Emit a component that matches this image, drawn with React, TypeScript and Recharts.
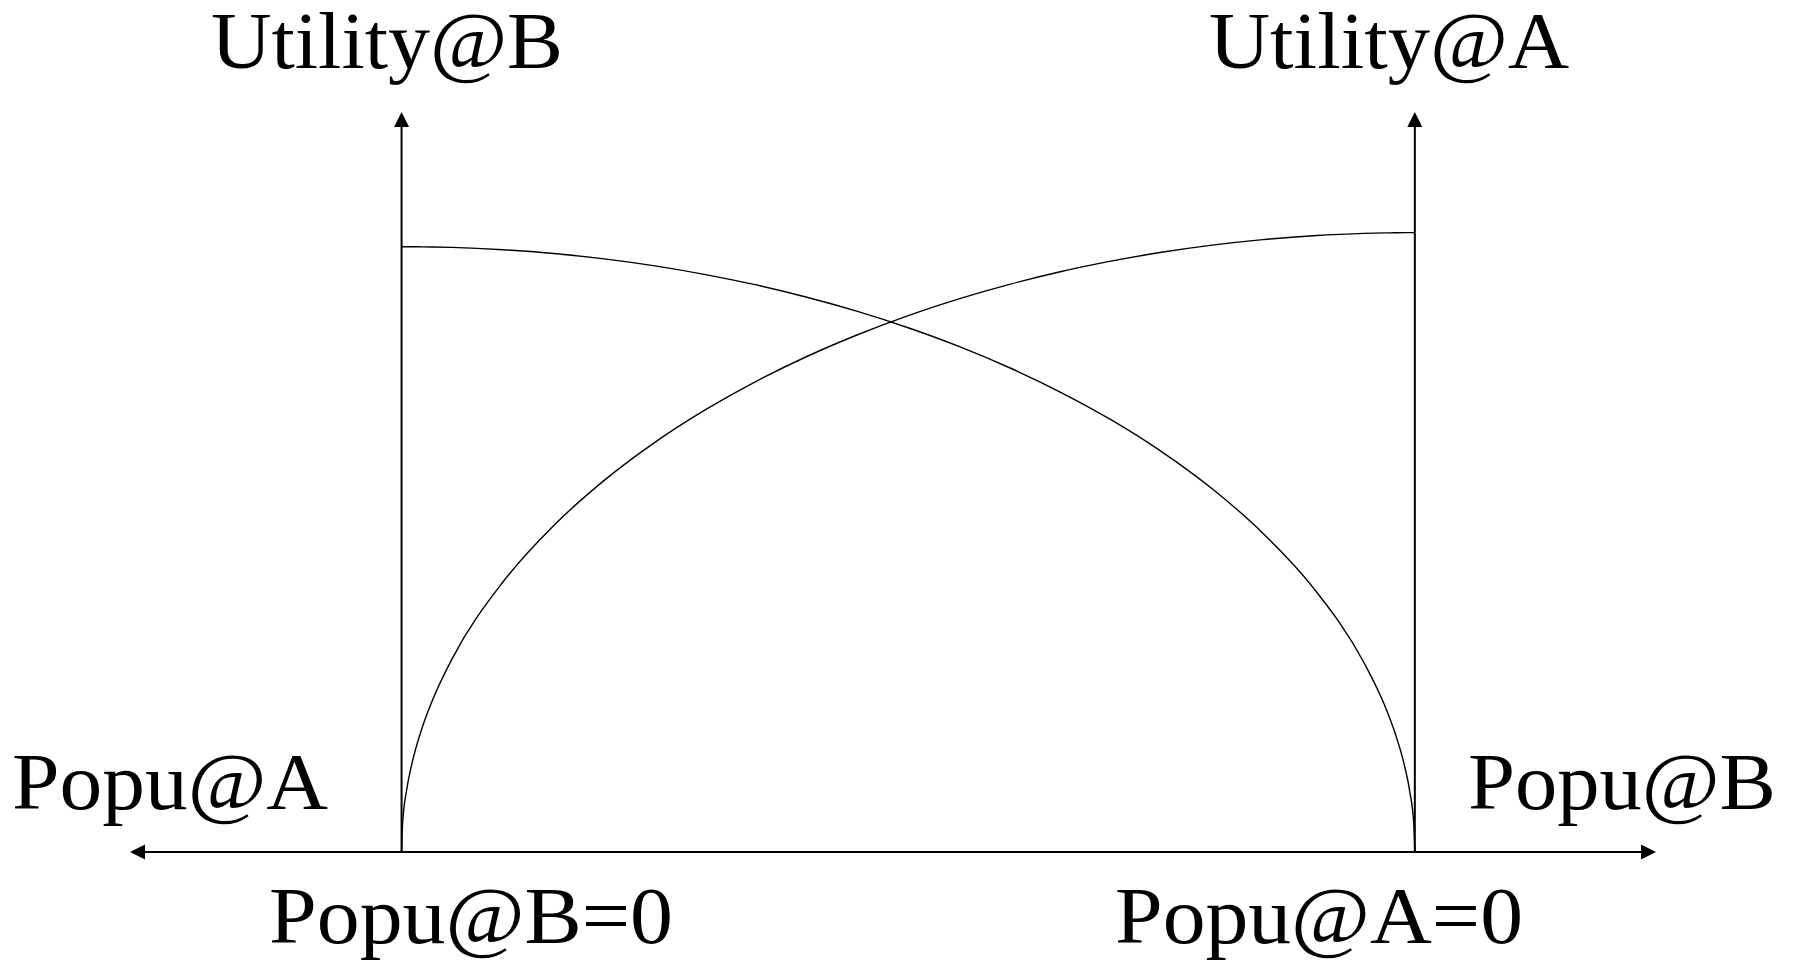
import { LineChart, Line, XAxis, YAxis, ReferenceLine, Customized } from 'recharts'

// share of population on the horizontal axis (0 = left axis, 1 = right axis)
const popu = [0, 0.001, 0.005, 0.01, 0.02, 0.03, 0.05, 0.1, 0.15, 0.2, 0.25, 0.3, 0.35, 0.4, 0.45, 0.5, 0.55, 0.6, 0.65, 0.7, 0.75, 0.8, 0.85, 0.9, 0.95, 0.97, 0.98, 0.99, 0.995, 0.999, 1]
// utility at B
const utilityB = [81.8, 81.8, 81.8, 81.8, 81.78, 81.76, 81.7, 81.39, 80.87, 80.15, 79.2, 78.03, 76.63, 74.97, 73.05, 70.84, 68.32, 65.44, 62.16, 58.42, 54.11, 49.08, 43.09, 35.66, 25.54, 19.89, 16.28, 11.54, 8.17, 3.66, 0]
// utility at A
const utilityA = [0, 3.74, 8.36, 11.81, 16.66, 20.35, 26.14, 36.48, 44.09, 50.22, 55.36, 59.77, 63.61, 66.96, 69.9, 72.49, 74.75, 76.71, 78.41, 79.84, 81.04, 82.01, 82.75, 83.28, 83.6, 83.66, 83.68, 83.7, 83.7, 83.7, 83.7]

const labels = [
  { text: 'Utility@B', x: 211, y: 68, len: 352 },
  { text: 'Utility@A', x: 1209, y: 68, len: 360 },
  { text: 'Popu@A', x: 12, y: 809, len: 316 },
  { text: 'Popu@B', x: 1468, y: 809, len: 308 },
  { text: 'Popu@B=0', x: 269, y: 943, len: 404 },
  { text: 'Popu@A=0', x: 1115, y: 943, len: 408 },
]

const data = popu.map((x, i) => ({ x, u1: utilityB[i], u2: utilityA[i] }))

const HEAD = 15

function arrowHead(tx: number, ty: number, dx: number, dy: number, key: string) {
  const bx = tx - dx * HEAD
  const by = ty - dy * HEAD
  const px = -dy * 7.5
  const py = dx * 7.5
  return <polygon key={key} points={`${tx},${ty} ${bx + px},${by + py} ${bx - px},${by - py}`} fill="#000" />
}

function ArrowLine(props: any) {
  const { x1, y1, x2, y2, both } = props
  const len = Math.hypot(x2 - x1, y2 - y1) || 1
  const dx = (x2 - x1) / len
  const dy = (y2 - y1) / len
  const sx = both ? x1 + dx * HEAD : x1
  const sy = both ? y1 + dy * HEAD : y1
  return (
    <g>
      <line x1={sx} y1={sy} x2={x2 - dx * HEAD} y2={y2 - dy * HEAD} stroke="#000" strokeWidth={2} />
      {arrowHead(x2, y2, dx, dy, 'end')}
      {both && arrowHead(x1, y1, -dx, -dy, 'start')}
    </g>
  )
}

function Labels() {
  return (
    <g>
      {labels.map(l => (
        <text
          key={l.text}
          x={l.x}
          y={l.y}
          textLength={l.len}
          lengthAdjust="spacingAndGlyphs"
          fontFamily="'Liberation Serif', 'Times New Roman', serif"
          fontSize={81}
          fill="#000"
        >
          {l.text}
        </text>
      ))}
    </g>
  )
}

export default function App() {
  return (
    <div style={{ position: 'absolute', left: 0, top: 0, width: 1795, height: 962, background: '#fff' }}>
      <LineChart width={1795} height={962} data={data} margin={{ top: 112, right: 139, bottom: 110, left: 130 }}>
        <XAxis type="number" dataKey="x" domain={[-0.268, 1.238]} hide allowDataOverflow />
        <YAxis type="number" domain={[0, 100]} hide width={0} allowDataOverflow />
        <ReferenceLine segment={[{ x: 1.238, y: 0 }, { x: -0.268, y: 0 }]} ifOverflow="visible" shape={(p: any) => <ArrowLine {...p} both />} />
        <ReferenceLine segment={[{ x: 0, y: 0 }, { x: 0, y: 100 }]} ifOverflow="visible" shape={(p: any) => <ArrowLine {...p} />} />
        <ReferenceLine segment={[{ x: 1, y: 0 }, { x: 1, y: 100 }]} ifOverflow="visible" shape={(p: any) => <ArrowLine {...p} />} />
        <Line type="monotone" dataKey="u1" stroke="#000" strokeWidth={1.4} dot={false} isAnimationActive={false} />
        <Line type="monotone" dataKey="u2" stroke="#000" strokeWidth={1.4} dot={false} isAnimationActive={false} />
        <Customized component={Labels} />
      </LineChart>
    </div>
  )
}
